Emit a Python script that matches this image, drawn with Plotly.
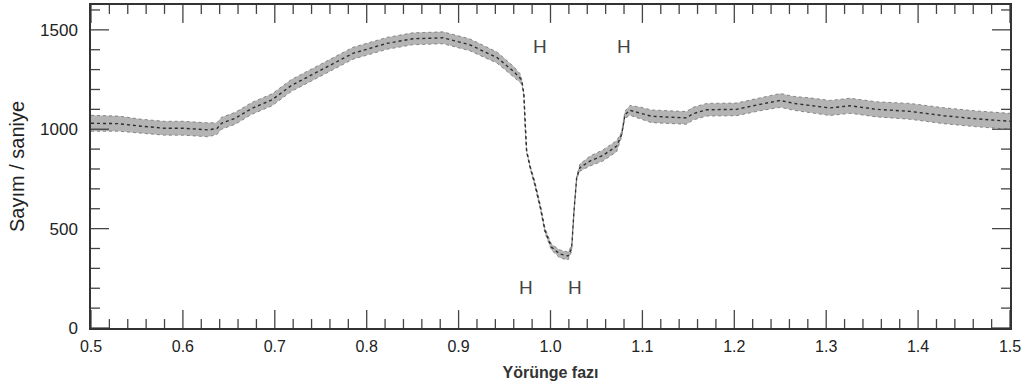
import plotly.graph_objects as go

# Orbital phase and count rate (centre of the scatter band)
phase = [0.500, 0.530, 0.555, 0.580, 0.600, 0.627, 0.637, 0.642, 0.657, 0.675,
         0.697, 0.718, 0.740, 0.764, 0.785, 0.822, 0.850, 0.883, 0.912, 0.942,
         0.960, 0.967, 0.969, 0.971, 0.9723, 0.974, 0.978, 0.983, 0.989, 0.994,
         1.001, 1.010, 1.019, 1.023, 1.0256, 1.0285, 1.032, 1.043, 1.057, 1.072,
         1.0775, 1.081, 1.0865, 1.097, 1.110, 1.148, 1.155, 1.170, 1.2025, 1.228,
         1.250, 1.265, 1.282, 1.304, 1.326, 1.355, 1.391, 1.428, 1.464, 1.500]
counts = [1030, 1028, 1015, 1005, 1005, 997, 1003, 1030, 1055, 1105,
          1148, 1220, 1273, 1332, 1382, 1432, 1455, 1460, 1425, 1360,
          1290, 1257, 1235, 1175, 1007, 890, 807, 725, 607, 490,
          407, 373, 362, 400, 590, 757, 807, 840, 868, 915,
          975, 1073, 1095, 1082, 1065, 1057, 1078, 1098, 1100, 1125,
          1145, 1130, 1120, 1107, 1118, 1100, 1090, 1068, 1052, 1040]
# half width of the scatter band
spread = [40, 38, 35, 35, 35, 35, 30, 30, 30, 30,
          30, 30, 30, 30, 30, 30, 30, 30, 30, 28,
          25, 22, 12, 6, 6, 6, 8, 12, 12, 12,
          15, 20, 20, 15, 6, 6, 18, 25, 28, 28,
          12, 18, 25, 30, 32, 32, 32, 32, 32, 32,
          35, 35, 38, 38, 38, 38, 40, 40, 40, 40]

# "H" markers (phase, count)
h_x = [0.9886, 1.080, 0.9733, 1.0267]
h_y = [1415, 1415, 205, 205]

# tick positions
x_major = [0.5, 0.6, 0.7, 0.8, 0.9, 1.0, 1.1, 1.2, 1.3, 1.4, 1.5]
x_labels = ["0.5", "0.6", "0.7", "0.8", "0.9", "1.0", "1.1", "1.2", "1.3", "1.4", "1.5"]
x_minor_step = 0.02
y_major = [0, 500, 1000, 1500]
y_labels = ["0", "500", "1000", "1500"]
y_minor_step = 100

upper = [c + s for c, s in zip(counts, spread)]
lower = [c - s for c, s in zip(counts, spread)]

fig = go.Figure()
fig.add_trace(go.Scatter(x=phase, y=upper, mode="lines",
                         line=dict(color="rgba(100,100,100,0.7)", width=1, dash="dot"),
                         hoverinfo="skip", showlegend=False))
fig.add_trace(go.Scatter(x=phase, y=lower, mode="lines", fill="tonexty",
                         fillcolor="rgba(105,105,105,0.5)",
                         line=dict(color="rgba(100,100,100,0.7)", width=1, dash="dot"),
                         hoverinfo="skip", showlegend=False))
fig.add_trace(go.Scatter(x=phase, y=counts, mode="lines",
                         line=dict(color="#2e2e2e", width=1.4, dash="dot"),
                         showlegend=False))

for hx, hy in zip(h_x, h_y):
    fig.add_annotation(x=hx, y=hy, text="H", showarrow=False,
                       font=dict(family="Liberation Sans Narrow, Liberation Sans, Arial",
                                 size=19, color="#444"))

# inside tick marks on all four sides (drawn as shapes in axis coordinates)
PLOT_W, PLOT_H = 1032 - 91 - 22, 389 - 3 - 61
MAJ, MIN = 18, 9
tick_line = dict(color="#444", width=1.3)
nx = int(round((x_major[-1] - x_major[0]) / x_minor_step))
x_all = [round(x_major[0] + i * x_minor_step, 4) for i in range(nx + 1)]
for xv in x_all:
    L = MAJ if any(abs(xv - m) < 1e-6 for m in x_major) else MIN
    fig.add_shape(type="line", xref="x", yref="y domain", x0=xv, x1=xv,
                  y0=0, y1=L / PLOT_H, line=tick_line)
    fig.add_shape(type="line", xref="x", yref="y domain", x0=xv, x1=xv,
                  y0=1, y1=1 - L / PLOT_H, line=tick_line)
ny = int(1600 // y_minor_step)
y_all = [i * y_minor_step for i in range(ny + 1)]
for yv in y_all:
    L = MAJ if yv in y_major else MIN
    fig.add_shape(type="line", xref="x domain", yref="y", y0=yv, y1=yv,
                  x0=0, x1=L / PLOT_W, line=tick_line)
    fig.add_shape(type="line", xref="x domain", yref="y", y0=yv, y1=yv,
                  x0=1, x1=1 - L / PLOT_W, line=tick_line)

fig.update_layout(
    width=1032, height=389,
    margin=dict(l=91, r=22, t=3, b=61),
    paper_bgcolor="white", plot_bgcolor="white",
    xaxis=dict(range=[0.5, 1.5], tickmode="array", tickvals=x_major, ticktext=x_labels,
               showgrid=False, zeroline=False, showline=True, linecolor="#333", linewidth=1.5,
               mirror=True, ticks="", ticklabelstandoff=3,
               tickfont=dict(family="Liberation Sans, Arial", size=16, color="#222"),
               title=dict(text="Yörünge fazı", standoff=13,
                          font=dict(family="Liberation Sans, Arial", size=16, color="#333",
                                    weight="bold"))),
    yaxis=dict(range=[0, 1625], tickmode="array", tickvals=y_major, ticktext=y_labels,
               showgrid=False, zeroline=False, showline=True, linecolor="#333", linewidth=1.5,
               mirror=True, ticks="", ticklabelstandoff=8,
               tickfont=dict(family="Liberation Sans, Arial", size=17, color="#222"),
               title=dict(text="Sayım / saniye", standoff=10,
                          font=dict(family="Liberation Sans, Arial", size=20, color="#222"))),
)

fig.write_html("out.html")
